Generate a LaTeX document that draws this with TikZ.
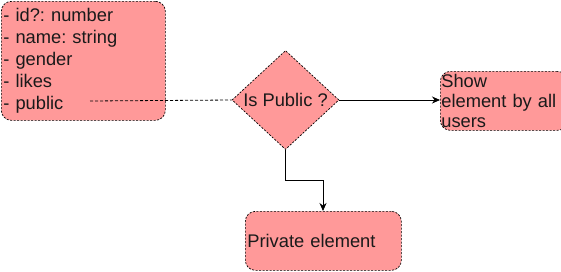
\documentclass[tikz,border=0pt]{standalone}
\usepackage{fontspec}
\setmainfont{Liberation Sans}
\usetikzlibrary{shapes.geometric,arrows.meta}
\definecolor{boxfill}{HTML}{FF9999}
\definecolor{ink}{HTML}{1A1A1A}
\frenchspacing
\begin{document}
\begin{tikzpicture}[x=1pt,y=-1pt,
  every node/.style={font=\fontsize{18.3}{22}\selectfont, text=ink},
  card/.style={draw=black, fill=boxfill, rounded corners=10pt, line width=0.7pt,
    dash pattern=on 2pt off 1.5pt, inner sep=2pt, align=left, anchor=north west},
  choice/.style={diamond, draw=black, fill=boxfill, line width=0.7pt,
    dash pattern=on 2pt off 1.5pt, minimum width=107pt, minimum height=99pt, inner sep=0pt},
  link/.style={draw=black, line width=0.8pt},
  arrow/.style={link, -{Stealth[length=8pt,width=7pt]}}]
\useasboundingbox (0,0) rectangle (561,271);
% data model card
\node[card, minimum width=164pt, minimum height=119pt, text width=160pt] (model) at (1,1)
  {- id?: number\\- name: string\\- gender\\- likes\\- public};
% decision
\node[choice] (decide) at (285.5,100) {Is Public ?};
% outcomes
\node[card, minimum width=119pt, minimum height=59pt, text width=125pt, inner sep=1pt,
  font=\fontsize{18.3}{20}\selectfont] (show) at (440,71)
  {Show\\element by all\\users};
\node[card, minimum width=156pt, minimum height=59pt, text width=152pt] (private) at (245,211)
  {Private element};
% connectors
\coordinate (attr) at (90,101);
\draw[link, dash pattern=on 3pt off 2pt] (attr) -- (decide.west);
\draw[arrow] (decide.east) -- (440,100);
\draw[arrow] (decide.south) |- (323,180) -- (323,211);
\end{tikzpicture}
\end{document}
